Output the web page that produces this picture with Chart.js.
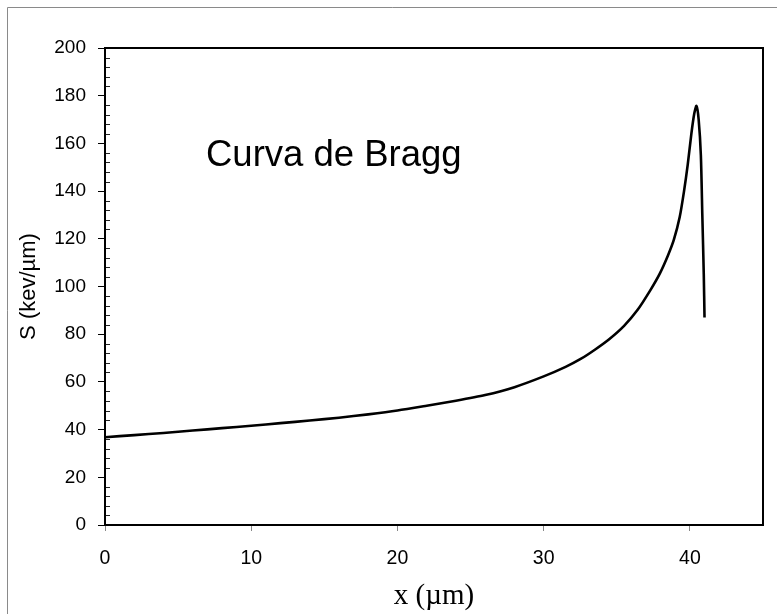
<!DOCTYPE html>
<html>
<head>
<meta charset="utf-8">
<script src="https://cdn.jsdelivr.net/npm/chart.js@4/dist/chart.umd.min.js"></script>
<style>
  html, body { margin: 0; padding: 0; background: #fff; }
  #wrap { width: 777px; height: 614px; position: relative; }
</style>
</head>
<body>
<div id="wrap"><canvas id="c" width="777" height="614"></canvas></div>
<script>
// Stopping power along the track (Bragg curve)
const depth = [0, 2, 4, 6, 8, 10, 12, 14, 16, 18, 20, 22, 24, 26, 28, 30,
  31.5, 32.5, 33.5, 34.5, 35.5, 36.4, 37.3, 37.95, 38.5, 38.9, 39.3, 39.6,
  39.85, 40.1, 40.3, 40.45, 40.6, 40.75, 40.85, 40.95, 41.0];
const stopping = [36.8, 37.7, 38.6, 39.6, 40.6, 41.6, 42.7, 43.8, 45.0, 46.4, 48.0, 50.0, 52.1, 54.5, 57.8, 62.3,
  66.3, 69.5, 73.5, 78.0, 83.5, 90.0, 98.5, 105.5, 113.0, 119.5, 129.0, 140.0,
  151.0, 164.0, 172.5, 175.7, 170.0, 155.0, 130.0, 105.0, 87.0];
const xTicks = [0, 10, 20, 30, 40];
const yTicks = [0, 20, 40, 60, 80, 100, 120, 140, 160, 180, 200];
const titleText = 'Curva de Bragg';
const xTitle = 'x (\u00b5m)';
const yTitle = 'S (kev/\u00b5m)';

const points = depth.map((d, i) => ({ x: d, y: stopping[i] }));

const decor = {
  id: 'decor',
  beforeDraw(chart) {
    const ctx = chart.ctx;
    ctx.save();
    ctx.fillStyle = '#fff';
    ctx.fillRect(0, 0, chart.width, chart.height);
    ctx.strokeStyle = '#8a8a8a';
    ctx.lineWidth = 1;
    ctx.beginPath();
    ctx.moveTo(7.5, chart.height);
    ctx.lineTo(7.5, 7.5);
    ctx.lineTo(chart.width, 7.5);
    ctx.stroke();
    ctx.restore();
  },
  afterDraw(chart) {
    const ctx = chart.ctx;
    const a = chart.chartArea;
    const ys = chart.scales.y;
    ctx.save();
    // minor ticks on the value axis
    ctx.strokeStyle = '#222';
    ctx.lineWidth = 1;
    ctx.beginPath();
    for (let v = 0; v <= 200; v += 4) {
      if (v % 20 === 0) continue;
      const py = Math.round(ys.getPixelForValue(v)) + 0.5;
      ctx.moveTo(a.left, py);
      ctx.lineTo(a.left + 5, py);
    }
    ctx.stroke();
    // plot frame
    ctx.strokeStyle = '#000';
    ctx.lineWidth = 2;
    ctx.strokeRect(a.left, a.top, a.right - a.left, a.bottom - a.top);
    // annotation text
    ctx.fillStyle = '#000';
    ctx.font = '36.5px "Liberation Sans", Arial, sans-serif';
    ctx.textBaseline = 'alphabetic';
    ctx.textAlign = 'left';
    ctx.fillText(titleText, 206, 166);
    ctx.restore();
  }
};

new Chart(document.getElementById('c'), {
  type: 'scatter',
  data: {
    datasets: [{
      data: points,
      showLine: true,
      borderColor: '#000',
      borderWidth: 2.6,
      pointRadius: 0,
      tension: 0.25,
      fill: false
    }]
  },
  options: {
    responsive: false,
    animation: false,
    devicePixelRatio: 1,
    layout: { padding: { top: 48, right: 14, left: 0, bottom: 0 } },
    plugins: { legend: { display: false }, tooltip: { enabled: false } },
    scales: {
      x: {
        type: 'linear',
        min: 0, max: 45,
        afterBuildTicks(scale) { scale.ticks = xTicks.map(v => ({ value: v })); },
        afterFit(scale) { scale.height = 89; },
        border: { display: true, color: '#000', width: 2 },
        grid: { drawOnChartArea: false, drawTicks: true, tickLength: 6, color: '#888' },
        ticks: {
          color: '#000', padding: 16,
          font: { family: '"Liberation Sans", Arial, sans-serif', size: 19.5 }
        },
        title: {
          display: true, text: xTitle, color: '#000',
          font: { family: '"Liberation Serif", "Times New Roman", serif', size: 29 },
          padding: { top: 0, bottom: 0 }
        }
      },
      y: {
        type: 'linear',
        min: 0, max: 200,
        afterBuildTicks(scale) { scale.ticks = yTicks.map(v => ({ value: v })); },
        afterFit(scale) { scale.width = 105; },
        border: { display: true, color: '#000', width: 2 },
        grid: { drawOnChartArea: false, drawTicks: true, tickLength: 7, color: '#000' },
        ticks: {
          color: '#000', padding: 12,
          font: { family: '"Liberation Sans", Arial, sans-serif', size: 19 }
        },
        title: {
          display: true, text: yTitle, color: '#000',
          font: { family: '"Liberation Sans", Arial, sans-serif', size: 22 },
          padding: { top: 16, bottom: 0 }
        }
      }
    }
  },
  plugins: [decor]
});
</script>
</body>
</html>
